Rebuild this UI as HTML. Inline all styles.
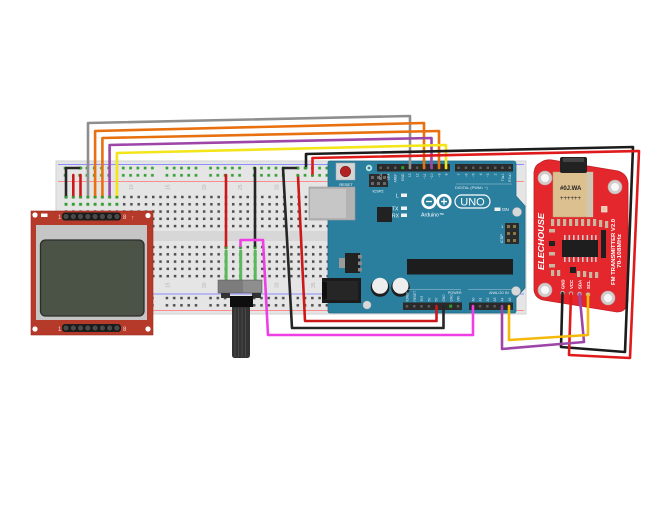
<!DOCTYPE html>
<html><head><meta charset="utf-8"><style>
html,body{margin:0;padding:0;background:#fff;}
svg{display:block;}
text{font-family:"Liberation Sans",sans-serif;}
</style></head><body>
<svg width="669" height="512" viewBox="0 0 669 512" xmlns="http://www.w3.org/2000/svg">
<defs>
<pattern id="mh" x="62.36" y="193.36" width="7.27" height="7.27" patternUnits="userSpaceOnUse"><rect x="2.4" y="2.4" width="2.5" height="2.5" fill="#4e4e4e"/></pattern>
<pattern id="mh2" x="62.36" y="243.4" width="7.27" height="7.27" patternUnits="userSpaceOnUse"><rect x="2.4" y="2.4" width="2.5" height="2.5" fill="#4e4e4e"/></pattern>
<pattern id="gh" x="62.36" y="193.36" width="7.27" height="7.27" patternUnits="userSpaceOnUse"><rect x="2.2" y="2.2" width="2.9" height="2.9" fill="#2f9e2f"/></pattern>
<pattern id="gh2" x="62.36" y="243.4" width="7.27" height="7.27" patternUnits="userSpaceOnUse"><rect x="2.2" y="2.2" width="2.9" height="2.9" fill="#2f9e2f"/></pattern>
<pattern id="rt" x="-11.2" y="164.4" width="43.62" height="7.27" patternUnits="userSpaceOnUse">
<rect x="2.3" y="2.3" width="2.7" height="2.7" fill="#35a035"/><rect x="9.57" y="2.3" width="2.7" height="2.7" fill="#35a035"/><rect x="16.84" y="2.3" width="2.7" height="2.7" fill="#35a035"/><rect x="24.11" y="2.3" width="2.7" height="2.7" fill="#35a035"/><rect x="31.38" y="2.3" width="2.7" height="2.7" fill="#35a035"/></pattern>
<pattern id="rb" x="-11.2" y="294.4" width="43.62" height="7.27" patternUnits="userSpaceOnUse">
<rect x="2.4" y="2.4" width="2.5" height="2.5" fill="#4e4e4e"/><rect x="9.67" y="2.4" width="2.5" height="2.5" fill="#4e4e4e"/><rect x="16.94" y="2.4" width="2.5" height="2.5" fill="#4e4e4e"/><rect x="24.21" y="2.4" width="2.5" height="2.5" fill="#4e4e4e"/><rect x="31.48" y="2.4" width="2.5" height="2.5" fill="#4e4e4e"/></pattern>
</defs>
<rect width="669" height="512" fill="#fff"/>

<!-- Breadboard -->
<rect x="56" y="161" width="470" height="153" fill="#e5e5e5" stroke="#d2d2d2" stroke-width="1"/>
<rect x="56.5" y="231" width="469" height="10" fill="#d7d7d7"/>
<line x1="58" y1="164.5" x2="524" y2="164.5" stroke="#8d8dff" stroke-width="1"/>
<line x1="58" y1="181.5" x2="524" y2="181.5" stroke="#ff8d8d" stroke-width="1"/>
<line x1="58" y1="294" x2="524" y2="294" stroke="#8d8dff" stroke-width="1"/>
<line x1="58" y1="310.5" x2="524" y2="310.5" stroke="#ff8d8d" stroke-width="1"/>
<rect x="62" y="164.4" width="268" height="14.54" fill="url(#rt)"/>
<rect x="62" y="294.4" width="268" height="14.54" fill="url(#rb)"/>
<rect x="62.36" y="193.36" width="269" height="36.35" fill="url(#mh)"/>
<rect x="62.36" y="243.4" width="269" height="36.35" fill="url(#mh2)"/>
<rect x="62.36" y="193.36" width="58.16" height="14.54" fill="#e5e5e5"/>
<rect x="62.36" y="193.36" width="58.16" height="14.54" fill="url(#gh)"/>
<rect x="222.3" y="243.4" width="7.27" height="36.35" fill="#e5e5e5"/>
<rect x="222.3" y="243.4" width="7.27" height="36.35" fill="url(#gh2)"/>
<rect x="236.9" y="243.4" width="7.27" height="36.35" fill="#e5e5e5"/>
<rect x="236.9" y="243.4" width="7.27" height="36.35" fill="url(#gh2)"/>
<rect x="251.4" y="243.4" width="7.27" height="36.35" fill="#e5e5e5"/>
<rect x="251.4" y="243.4" width="7.27" height="36.35" fill="url(#gh2)"/>
<g fill="#b5b5b5" font-size="5">
<text transform="translate(133,190) rotate(-90)">10</text>
<text transform="translate(169.5,190) rotate(-90)">15</text>
<text transform="translate(206,190) rotate(-90)">20</text>
<text transform="translate(242,190) rotate(-90)">25</text>
<text transform="translate(278.5,190) rotate(-90)">30</text>
<text transform="translate(169.5,288) rotate(-90)">15</text>
<text transform="translate(206,288) rotate(-90)">20</text>
<text transform="translate(278.5,288) rotate(-90)">30</text>
<text transform="translate(315,288) rotate(-90)">35</text>
</g>

<!-- Arduino -->
<path d="M330,161 L513,161 Q516,161 516,164 L516,196 L525,206 L525,288 L516,298 L516,311 Q516,313 514,313 L330,313 Q328,313 328,311 L328,163 Q328,161 330,161 Z" fill="#2a7e9e" stroke="#236f8c" stroke-width="0.8"/>
<!-- USB -->
<rect x="309" y="187" width="46" height="33" fill="#b3b3b3" stroke="#999" stroke-width="0.6"/>
<rect x="310" y="189" width="36" height="29" fill="#c6c6c6"/>
<!-- reset -->
<rect x="336" y="163" width="19" height="17" fill="#d5d5d5" stroke="#aaa" stroke-width="0.5"/>
<circle cx="345.5" cy="171.5" r="5.2" fill="#b22222" stroke="#7a1515" stroke-width="0.6"/>
<text x="346" y="186" font-size="4" fill="#fff" text-anchor="middle">RESET</text>
<circle cx="369" cy="168" r="3" fill="#cfe0e6" stroke="#9fc" stroke-width="0.5"/>
<circle cx="369" cy="168" r="1.4" fill="#2a7e9e"/>
<!-- ICSP2 -->
<rect x="369" y="174" width="19" height="13" fill="#2b2b2b"/>
<g fill="#6a6a6a"><rect x="371" y="176" width="3" height="3"/><rect x="377" y="176" width="3" height="3"/><rect x="383" y="176" width="3" height="3"/><rect x="371" y="182" width="3" height="3"/><rect x="377" y="182" width="3" height="3"/><rect x="383" y="182" width="3" height="3"/></g>
<text x="378" y="192.5" font-size="3.8" fill="#fff" text-anchor="middle">ICSP2</text>
<!-- 16U2 chip -->
<rect x="377" y="207" width="15" height="15" fill="#222"/>
<!-- LEDs -->
<rect x="401" y="193.5" width="6" height="3.5" fill="#f2f2f2"/>
<rect x="401" y="206.5" width="6" height="3.5" fill="#f2f2f2"/>
<rect x="401" y="213.5" width="6" height="3.5" fill="#f2f2f2"/>
<g fill="#fff" font-size="5"><text x="396" y="197.5">L</text><text x="392" y="210.5">TX</text><text x="392" y="217.5">RX</text></g>
<!-- Logo -->
<g fill="none" stroke="#fff" stroke-width="2.6">
<circle cx="429" cy="201.5" r="6.3"/><circle cx="444" cy="201.5" r="6.3"/>
</g>
<g stroke="#fff" stroke-width="1.3"><line x1="426" y1="201.5" x2="432" y2="201.5"/><line x1="441" y1="201.5" x2="447" y2="201.5"/><line x1="444" y1="198.5" x2="444" y2="204.5"/></g>
<rect x="455" y="195" width="35" height="13" rx="6.5" fill="none" stroke="#fff" stroke-width="1.2"/>
<text x="472.5" y="205.6" font-size="11" fill="#fff" text-anchor="middle">UNO</text>
<text x="421" y="216.5" font-size="5.2" fill="#fff">Arduino™</text>
<rect x="494.5" y="207.5" width="6" height="3.5" fill="#f2f2f2"/>
<text x="502" y="211.2" font-size="4.5" fill="#fff">ON</text>
<circle cx="517" cy="212" r="4.5" fill="#d8d8d8" stroke="#bbb" stroke-width="0.5"/>
<!-- ICSP right -->
<rect x="505" y="223" width="14" height="21" fill="#2b2b2b"/>
<g fill="#8a7a4a"><rect x="507" y="225" width="3" height="3"/><rect x="513" y="225" width="3" height="3"/><rect x="507" y="232" width="3" height="3"/><rect x="513" y="232" width="3" height="3"/><rect x="507" y="239" width="3" height="3"/><rect x="513" y="239" width="3" height="3"/></g>
<text transform="translate(503,243) rotate(-90)" font-size="3.8" fill="#fff">ICSP</text>
<text x="501" y="228" font-size="4" fill="#fff">1</text>
<!-- top headers -->
<rect x="377" y="164" width="73" height="7.5" fill="#2a2a2a"/>
<rect x="455" y="164" width="58" height="7.5" fill="#2a2a2a"/>
<g fill="#5c5c5c">
<rect x="379.4" y="166.5" width="2.5" height="2.5"/><rect x="386.7" y="166.5" width="2.5" height="2.5"/><rect x="394" y="166.5" width="2.5" height="2.5"/><rect x="408.6" y="166.5" width="2.5" height="2.5"/><rect x="415.9" y="166.5" width="2.5" height="2.5"/><rect x="423.2" y="166.5" width="2.5" height="2.5"/><rect x="430.5" y="166.5" width="2.5" height="2.5"/><rect x="437.8" y="166.5" width="2.5" height="2.5"/><rect x="445.1" y="166.5" width="2.5" height="2.5"/>
<rect x="457.4" y="166.5" width="2.5" height="2.5"/><rect x="464.7" y="166.5" width="2.5" height="2.5"/><rect x="472" y="166.5" width="2.5" height="2.5"/><rect x="479.3" y="166.5" width="2.5" height="2.5"/><rect x="486.6" y="166.5" width="2.5" height="2.5"/><rect x="493.9" y="166.5" width="2.5" height="2.5"/><rect x="501.2" y="166.5" width="2.5" height="2.5"/><rect x="508.5" y="166.5" width="2.5" height="2.5"/>
</g>
<rect x="401.2" y="166.2" width="3" height="3" fill="#2f9e2f"/>
<g fill="#dfe9ee" font-size="3.4" text-anchor="end">
<text transform="translate(382,173.5) rotate(-90)">SCL</text>
<text transform="translate(389.3,173.5) rotate(-90)">SDA</text>
<text transform="translate(396.6,173.5) rotate(-90)">AREF</text>
<text transform="translate(403.9,173.5) rotate(-90)">GND</text>
<text transform="translate(411.2,173.5) rotate(-90)">13</text>
<text transform="translate(418.5,173.5) rotate(-90)">12</text>
<text transform="translate(425.8,173.5) rotate(-90)">~11</text>
<text transform="translate(433.1,173.5) rotate(-90)">~10</text>
<text transform="translate(440.4,173.5) rotate(-90)">~9</text>
<text transform="translate(447.7,173.5) rotate(-90)">8</text>
<text transform="translate(460,173.5) rotate(-90)">7</text>
<text transform="translate(467.3,173.5) rotate(-90)">~6</text>
<text transform="translate(474.6,173.5) rotate(-90)">~5</text>
<text transform="translate(481.9,173.5) rotate(-90)">4</text>
<text transform="translate(489.2,173.5) rotate(-90)">~3</text>
<text transform="translate(496.5,173.5) rotate(-90)">2</text>
<text transform="translate(503.8,173.5) rotate(-90)">TX▸1</text>
<text transform="translate(511.1,173.5) rotate(-90)">RX◂0</text>
</g>
<line x1="456" y1="184" x2="512" y2="184" stroke="#cfe0e8" stroke-width="0.4"/>
<text x="455" y="189" font-size="3.8" fill="#e5eef2">DIGITAL (PWM= ~)</text>
<!-- regulator -->
<rect x="339" y="258" width="7" height="10" fill="#9a9a9a"/>
<rect x="345" y="253" width="15" height="20" fill="#222"/>
<g fill="#8a8a8a"><rect x="358" y="255" width="4" height="3.5"/><rect x="358" y="261.5" width="4" height="3.5"/><rect x="358" y="268" width="4" height="3.5"/></g>
<!-- main chip -->
<rect x="407" y="259" width="106" height="15.5" fill="#1d1d1d"/>
<!-- power jack -->
<rect x="322" y="278" width="39" height="25" fill="#1b1b1b"/>
<rect x="325" y="281" width="33" height="19" fill="#262626"/>
<rect x="322" y="282" width="5" height="17" fill="#0f0f0f"/>
<!-- capacitors -->
<circle cx="380" cy="287.5" r="9.3" fill="#1e1e1e"/>
<circle cx="380" cy="285.8" r="8" fill="#eeeeee"/>
<circle cx="400.5" cy="287.5" r="9.3" fill="#1e1e1e"/>
<circle cx="400.5" cy="285.8" r="8" fill="#eeeeee"/>
<circle cx="367" cy="305" r="4" fill="#d8d8d8" stroke="#bbb" stroke-width="0.5"/>
<circle cx="516" cy="291" r="4.5" fill="#d8d8d8" stroke="#bbb" stroke-width="0.5"/>
<!-- bottom headers -->
<line x1="407" y1="289.5" x2="461" y2="289.5" stroke="#cfe0e8" stroke-width="0.4"/>
<line x1="468" y1="289.5" x2="514" y2="289.5" stroke="#cfe0e8" stroke-width="0.4"/>
<text x="448" y="294" font-size="3.6" fill="#e5eef2">POWER</text>
<text x="489" y="294" font-size="3.6" fill="#e5eef2">ANALOG IN</text>
<g fill="#dfe9ee" font-size="3.2">
<text transform="translate(408.5,301.5) rotate(-90)">IOREF</text>
<text transform="translate(415.8,301.5) rotate(-90)">RESET</text>
<text transform="translate(423.1,301.5) rotate(-90)">3V3</text>
<text transform="translate(430.4,301.5) rotate(-90)">5V</text>
<text transform="translate(437.7,301.5) rotate(-90)">5V</text>
<text transform="translate(445,301.5) rotate(-90)">GND</text>
<text transform="translate(452.3,301.5) rotate(-90)">GND</text>
<text transform="translate(459.6,301.5) rotate(-90)">VIN</text>
<text transform="translate(474.3,301.5) rotate(-90)">A0</text>
<text transform="translate(481.6,301.5) rotate(-90)">A1</text>
<text transform="translate(488.9,301.5) rotate(-90)">A2</text>
<text transform="translate(496.2,301.5) rotate(-90)">A3</text>
<text transform="translate(503.5,301.5) rotate(-90)">A4</text>
<text transform="translate(510.8,301.5) rotate(-90)">A5</text>
</g>
<rect x="403" y="302.5" width="59" height="7.5" fill="#2a2a2a"/>
<rect x="469" y="302.5" width="44" height="7.5" fill="#2a2a2a"/>
<g fill="#5c5c5c">
<rect x="405.7" y="305" width="2.5" height="2.5"/><rect x="413" y="305" width="2.5" height="2.5"/><rect x="420.3" y="305" width="2.5" height="2.5"/><rect x="427.6" y="305" width="2.5" height="2.5"/><rect x="449.5" y="305" width="2.5" height="2.5"/><rect x="456.8" y="305" width="2.5" height="2.5"/>
<rect x="478.8" y="305" width="2.5" height="2.5"/><rect x="486.1" y="305" width="2.5" height="2.5"/><rect x="493.4" y="305" width="2.5" height="2.5"/>
</g>
<rect x="449.2" y="304.7" width="3" height="3" fill="#2f9e2f"/>

<!-- LCD -->
<rect x="31" y="211" width="122" height="124" fill="#b63a2a" stroke="#9a2e20" stroke-width="0.6"/>
<g fill="#fff"><circle cx="35" cy="215" r="2.6"/><circle cx="148" cy="215.5" r="2.6"/><circle cx="35" cy="329" r="2.6"/><circle cx="148" cy="329" r="2.6"/></g>
<rect x="41" y="213.5" width="6.5" height="3.5" fill="#fff"/>
<rect x="62" y="212.5" width="59" height="8" rx="3" fill="#1e1e1e"/>
<g fill="#4a4a4a" stroke="#111" stroke-width="0.6">
<circle cx="66" cy="216.5" r="3"/><circle cx="73.3" cy="216.5" r="3"/><circle cx="80.5" cy="216.5" r="3"/><circle cx="87.8" cy="216.5" r="3"/><circle cx="95.1" cy="216.5" r="3"/><circle cx="102.4" cy="216.5" r="3"/><circle cx="109.6" cy="216.5" r="3"/><circle cx="116.9" cy="216.5" r="3"/>
</g>
<g fill="#f3d8d3" font-size="6"><text x="58" y="219">1</text><text x="123" y="219">8</text><text x="131" y="219.5">↑</text><text x="58" y="331">1</text><text x="123" y="331">8</text></g>
<rect x="36" y="225" width="111" height="95" fill="#c5c5c5"/>
<rect x="40.5" y="240" width="103.5" height="76" rx="5" fill="#4b5346" stroke="#2c2c2c" stroke-width="1.3"/>
<rect x="62" y="324" width="59" height="8" rx="3" fill="#1e1e1e"/>
<g fill="#4a4a4a" stroke="#111" stroke-width="0.6">
<circle cx="66" cy="328" r="3"/><circle cx="73.3" cy="328" r="3"/><circle cx="80.5" cy="328" r="3"/><circle cx="87.8" cy="328" r="3"/><circle cx="95.1" cy="328" r="3"/><circle cx="102.4" cy="328" r="3"/><circle cx="109.6" cy="328" r="3"/><circle cx="116.9" cy="328" r="3"/>
</g>

<!-- Potentiometer -->
<g fill="#5cb85c"><rect x="224.6" y="250" width="3" height="31"/><rect x="239.2" y="250" width="3" height="31"/><rect x="253.7" y="250" width="3" height="31"/></g>
<rect x="218" y="280" width="44" height="13" fill="#7c7c7c" stroke="#555" stroke-width="0.5"/>
<rect x="243" y="280.5" width="18.5" height="12" fill="#8e8e8e"/>
<rect x="221" y="293" width="9" height="5" fill="#333"/>
<rect x="252" y="293" width="9" height="5" fill="#333"/>
<rect x="230" y="296" width="23" height="11" fill="#0e0e0e"/>
<path d="M232,307 L250,307 L250,355 Q250,358 247,358 L235,358 Q232,358 232,355 Z" fill="#333"/>
<g stroke="#4c4c4c" stroke-width="0.9"><line x1="235" y1="308" x2="235" y2="357"/><line x1="238.5" y1="308" x2="238.5" y2="357"/><line x1="242" y1="308" x2="242" y2="357"/><line x1="245.5" y1="308" x2="245.5" y2="357"/></g>

<!-- FM module -->
<path d="M540,163 Q545,159 552,160 L618,171 Q627,174 628,183 L628,300 Q627,312 617,312 L543,300 Q535,298 534,290 L534,172 Q535,165 540,163 Z" fill="#e4272c" stroke="#c21d22" stroke-width="0.8"/>
<g fill="#d2cccc" stroke="#b9a9a9" stroke-width="0.6"><circle cx="545" cy="178" r="7"/><circle cx="615" cy="187" r="7"/><circle cx="545" cy="290" r="7"/><circle cx="608" cy="298" r="7"/></g>
<g fill="#f8f8f8"><circle cx="545" cy="178" r="4"/><circle cx="615" cy="187" r="4"/><circle cx="545" cy="290" r="4"/><circle cx="608" cy="298" r="4"/></g>
<rect x="553" y="172" width="40" height="45" fill="#dcc08f" stroke="#b79e70" stroke-width="0.5"/>
<rect x="587" y="172" width="6" height="45" fill="#cfc6b4"/>
<rect x="560" y="157" width="27" height="16" rx="2" fill="#222"/>
<rect x="563" y="158" width="21" height="4" fill="#444"/>
<text x="560" y="190" font-size="6" fill="#222" font-weight="bold">#0J.WA</text>
<text x="560" y="200" font-size="6" fill="#222">++++++</text>
<rect x="601.5" y="206.5" width="5.5" height="5.5" fill="#e8c8a8" stroke="#fff" stroke-width="0.6"/>
<g fill="#c8b8a2">
<rect x="551" y="219" width="3.2" height="7"/><rect x="557" y="219" width="3.2" height="7"/><rect x="563" y="219" width="3.2" height="7"/><rect x="569" y="219" width="3.2" height="7"/><rect x="575" y="219" width="3.2" height="7"/><rect x="581" y="219" width="3.2" height="7"/><rect x="587" y="219" width="3.2" height="7"/><rect x="593" y="219" width="3.2" height="7"/><rect x="599" y="220" width="3.2" height="7"/><rect x="605" y="221" width="3.2" height="7"/>
<rect x="549" y="229" width="6" height="3.5"/><rect x="549" y="252" width="6" height="3.5"/><rect x="549" y="264" width="6" height="3.5"/>
<rect x="551" y="270" width="3.2" height="6"/><rect x="557" y="270" width="3.2" height="6"/><rect x="577" y="271" width="3.2" height="6"/><rect x="583" y="271" width="3.2" height="6"/><rect x="589" y="272" width="3.2" height="6"/><rect x="595" y="272" width="3.2" height="6"/>
</g>
<rect x="549" y="241" width="6" height="5" fill="#222"/>
<g fill="#c9c9c9">
<rect x="564" y="235" width="1.6" height="5"/><rect x="568.5" y="235" width="1.6" height="5"/><rect x="573" y="235" width="1.6" height="5"/><rect x="577.5" y="235" width="1.6" height="5"/><rect x="582" y="235" width="1.6" height="5"/><rect x="586.5" y="235" width="1.6" height="5"/><rect x="591" y="235" width="1.6" height="5"/><rect x="595" y="235" width="1.6" height="5"/>
<rect x="564" y="257" width="1.6" height="5"/><rect x="568.5" y="257" width="1.6" height="5"/><rect x="573" y="257" width="1.6" height="5"/><rect x="577.5" y="257" width="1.6" height="5"/><rect x="582" y="257" width="1.6" height="5"/><rect x="586.5" y="257" width="1.6" height="5"/><rect x="591" y="257" width="1.6" height="5"/><rect x="595" y="257" width="1.6" height="5"/>
</g>
<rect x="562" y="240" width="36" height="17" fill="#1e1e1e"/>
<rect x="601" y="230" width="5" height="28" fill="#1e1e1e"/>
<rect x="570" y="267" width="6" height="6" fill="#1e1e1e"/>
<text transform="translate(544,270) rotate(-90)" font-size="8.5" font-weight="bold" font-style="italic" fill="#fff" textLength="57" lengthAdjust="spacingAndGlyphs">ELECHOUSE</text>
<text transform="translate(615,285) rotate(-90)" font-size="5" font-weight="bold" fill="#fff" textLength="66" lengthAdjust="spacingAndGlyphs">FM TRANSMITTER V2.0</text>
<text transform="translate(621,268) rotate(-90)" font-size="5" font-weight="bold" fill="#fff" textLength="34" lengthAdjust="spacingAndGlyphs">70-108MHz</text>
<g font-size="4.3" fill="#fff" font-weight="bold">
<text transform="translate(564.5,289) rotate(-90)">GND</text>
<text transform="translate(573,289) rotate(-90)">VCC</text>
<text transform="translate(581.5,289) rotate(-90)">SDA</text>
<text transform="translate(590,289) rotate(-90)">SCL</text>
</g>
<g fill="#e8d8c8" stroke="#999" stroke-width="0.6"><circle cx="562.5" cy="293" r="2"/><circle cx="571" cy="293.5" r="2"/><circle cx="579.5" cy="294" r="2"/><circle cx="588" cy="294.5" r="2"/></g>

<!-- Wires -->
<g fill="none" stroke-width="2.6" stroke-linejoin="round" stroke-linecap="round">
<polyline points="66,197 66,168 81,168" stroke="#262626"/>
<polyline points="73.3,175 73.3,197" stroke="#cc1818"/>
<polyline points="80.5,175 80.5,197" stroke="#cc1818"/>
<polyline points="88,197 88,123 410,116 410,168" stroke="#8e8e8e"/>
<polyline points="95.1,197 95.1,131 424,123 424,168" stroke="#e8700f"/>
<polyline points="102.4,197 102.4,138 439,131 439,168" stroke="#e8700f"/>
<polyline points="109.6,197 109.6,145 431.5,138 431.5,168" stroke="#9d46a8"/>
<polyline points="116.9,197 116.9,153 446,145 446,168" stroke="#f3e51a"/>
<polyline points="226,175 226,248" stroke="#cc1818"/>
<polyline points="255,168 255,248" stroke="#262626"/>
<polyline points="240.5,248 240.5,240 263,240 268,335 473,335 473,306" stroke="#f03ee6"/>
<polyline points="298,168 283,168 292,328 443.5,328 443.5,306" stroke="#262626"/>
<polyline points="298,175.5 305,321 436.5,321 436.5,306" stroke="#cc1818"/>
<polyline points="306,168 306,154 633,147 625,352 561,347 562.5,293" stroke="#1c1c1c"/>
<polyline points="312.5,175.5 312.5,158 639,151 630,358 569,355 571,293.5" stroke="#e01a1a"/>
<polyline points="502,306 502,349 584,342 579.5,294" stroke="#9d46a8"/>
<polyline points="509,306 509,340 588,335 588,294.5" stroke="#f5b90a"/>
</g>
<g fill="#2f9e2f">
<circle cx="66" cy="197" r="1.3"/><circle cx="73.3" cy="197" r="1.3"/><circle cx="80.5" cy="197" r="1.3"/><circle cx="88" cy="197" r="1.3"/><circle cx="95.1" cy="197" r="1.3"/><circle cx="102.4" cy="197" r="1.3"/><circle cx="109.6" cy="197" r="1.3"/><circle cx="116.9" cy="197" r="1.3"/>
<circle cx="81" cy="168" r="1.3"/><circle cx="298" cy="168" r="1.3"/><circle cx="298" cy="175.5" r="1.3"/><circle cx="306" cy="168" r="1.3"/><circle cx="312.5" cy="175.5" r="1.3"/>
<circle cx="226" cy="248" r="1.3"/><circle cx="255" cy="248" r="1.3"/><circle cx="240.5" cy="248" r="1.3"/>
</g>
</svg>
</body></html>
